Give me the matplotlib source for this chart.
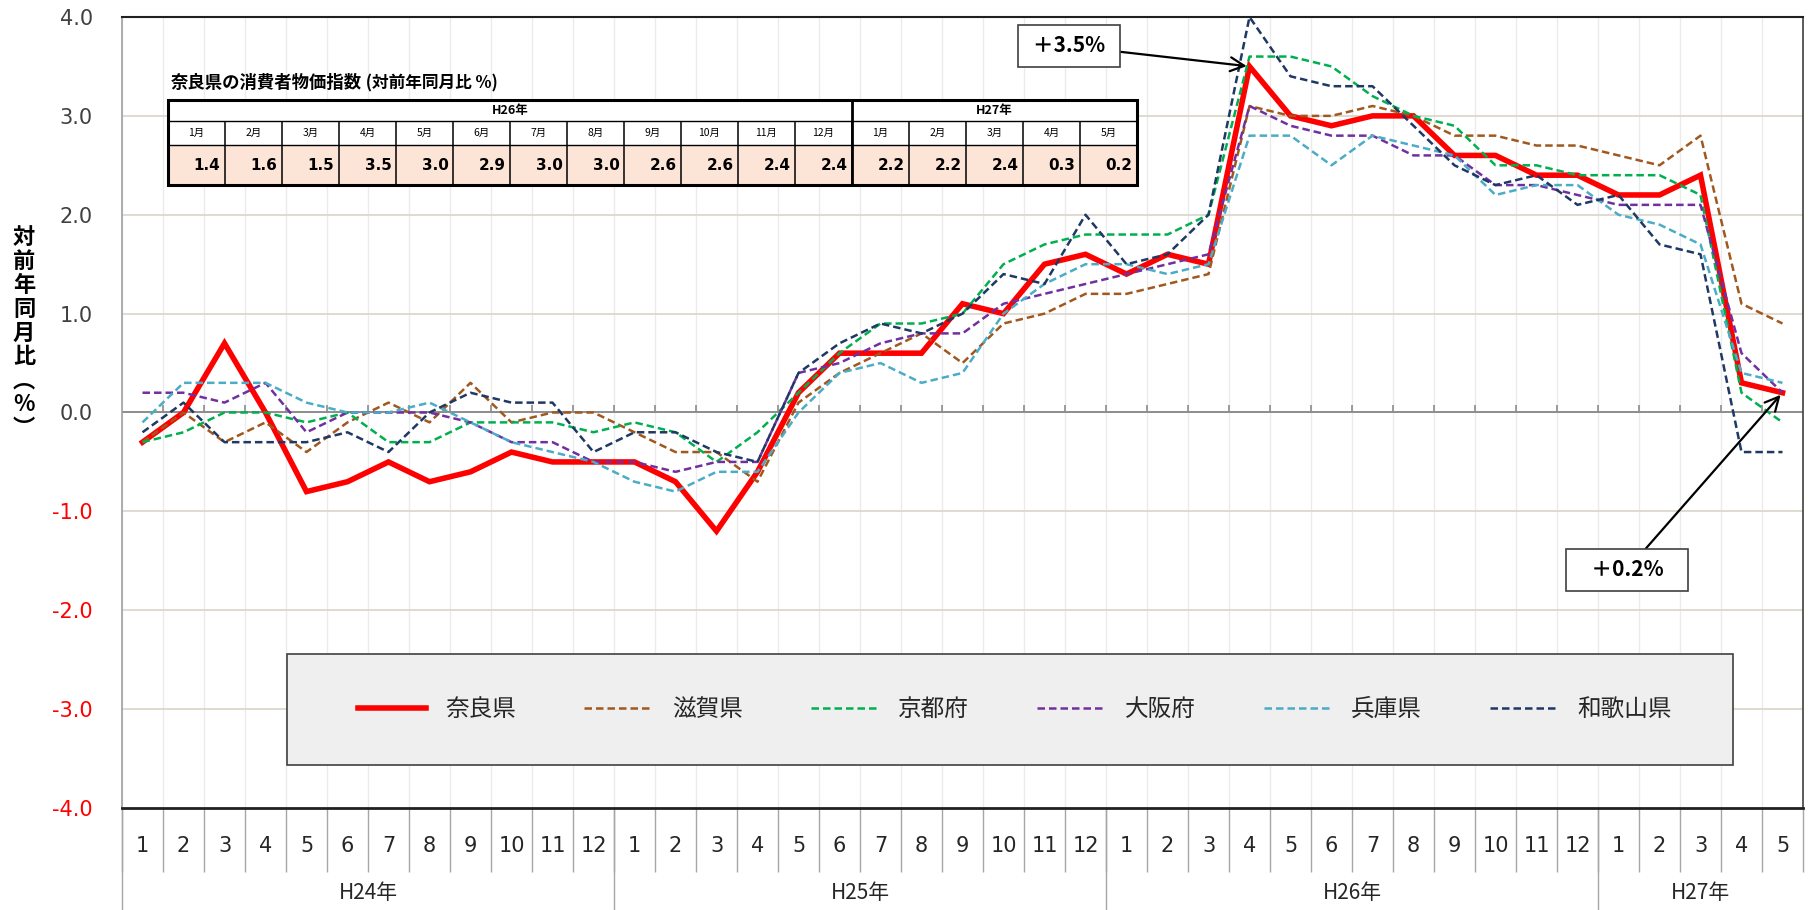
import matplotlib
matplotlib.use('Agg')
import matplotlib.pyplot as plt
from matplotlib.patches import Rectangle
import numpy as np

plt.rcParams['font.family'] = ['Noto Sans CJK JP', 'DejaVu Sans']

# month ticks along the x axis, grouped by year
months = [str(m) for m in range(1, 13)] * 3 + ['1', '2', '3', '4', '5']
years = ['H24年', 'H25年', 'H26年', 'H27年']
year_len = [12, 12, 12, 5]

# year-on-year change (%) per prefecture, H24.1 .. H27.5
nara = [-0.3, 0.0, 0.7, 0.0, -0.8, -0.7, -0.5, -0.7, -0.6, -0.4, -0.5, -0.5,
        -0.5, -0.7, -1.2, -0.6, 0.2, 0.6, 0.6, 0.6, 1.1, 1.0, 1.5, 1.6,
        1.4, 1.6, 1.5, 3.5, 3.0, 2.9, 3.0, 3.0, 2.6, 2.6, 2.4, 2.4,
        2.2, 2.2, 2.4, 0.3, 0.2]
shiga = [-0.3, 0.0, -0.3, -0.1, -0.4, -0.1, 0.1, -0.1, 0.3, -0.1, 0.0, 0.0,
         -0.2, -0.4, -0.4, -0.7, 0.1, 0.4, 0.6, 0.8, 0.5, 0.9, 1.0, 1.2,
         1.2, 1.3, 1.4, 3.1, 3.0, 3.0, 3.1, 3.0, 2.8, 2.8, 2.7, 2.7,
         2.6, 2.5, 2.8, 1.1, 0.9]
kyoto = [-0.3, -0.2, 0.0, 0.0, -0.1, 0.0, -0.3, -0.3, -0.1, -0.1, -0.1, -0.2,
         -0.1, -0.2, -0.5, -0.2, 0.2, 0.6, 0.9, 0.9, 1.0, 1.5, 1.7, 1.8,
         1.8, 1.8, 2.0, 3.6, 3.6, 3.5, 3.2, 3.0, 2.9, 2.5, 2.5, 2.4,
         2.4, 2.4, 2.2, 0.2, -0.1]
osaka = [0.2, 0.2, 0.1, 0.3, -0.2, 0.0, 0.0, 0.0, -0.1, -0.3, -0.3, -0.5,
         -0.5, -0.6, -0.5, -0.5, 0.4, 0.5, 0.7, 0.8, 0.8, 1.1, 1.2, 1.3,
         1.4, 1.5, 1.6, 3.1, 2.9, 2.8, 2.8, 2.6, 2.6, 2.3, 2.3, 2.2,
         2.1, 2.1, 2.1, 0.6, 0.2]
hyogo = [-0.1, 0.3, 0.3, 0.3, 0.1, 0.0, 0.0, 0.1, -0.1, -0.3, -0.4, -0.5,
         -0.7, -0.8, -0.6, -0.6, 0.0, 0.4, 0.5, 0.3, 0.4, 1.0, 1.3, 1.5,
         1.5, 1.4, 1.5, 2.8, 2.8, 2.5, 2.8, 2.7, 2.6, 2.2, 2.3, 2.3,
         2.0, 1.9, 1.7, 0.4, 0.3]
wakayama = [-0.2, 0.1, -0.3, -0.3, -0.3, -0.2, -0.4, 0.0, 0.2, 0.1, 0.1, -0.4,
            -0.2, -0.2, -0.4, -0.5, 0.4, 0.7, 0.9, 0.8, 1.0, 1.4, 1.3, 2.0,
            1.5, 1.6, 2.0, 4.0, 3.4, 3.3, 3.3, 2.9, 2.5, 2.3, 2.4, 2.1,
            2.2, 1.7, 1.6, -0.4, -0.4]

names = ['奈良県', '滋賀県', '京都府', '大阪府', '兵庫県', '和歌山県']
colors = ['#FF0000', '#A0581E', '#00B050', '#7030A0', '#4BACC6', '#1F3864']
data = [nara, shiga, kyoto, osaka, hyogo, wakayama]

# inset table: Nara, H26.1 .. H27.5
tbl_years = ['H26年', 'H27年']
tbl_months = [f'{m}月' for m in range(1, 13)] + [f'{m}月' for m in range(1, 6)]
tbl_vals = nara[24:]

fig = plt.figure(figsize=(18.12, 9.10), dpi=100)
ax = fig.add_axes([122 / 1812, 102 / 910, 1681 / 1812, 791 / 910])

x = np.arange(len(months))
bounds = np.arange(len(months) + 1) - 0.5

# grid
ax.vlines(bounds, -4, 4, color='#EBEBEB', lw=1, zorder=0)
for yv in [-3, -2, -1, 1, 2, 3]:
    ax.axhline(yv, color='#DDD8CB', lw=1.3, zorder=0)
ax.axhline(0, color='#8C8C8C', lw=1.4, zorder=1)
ax.vlines(bounds[1:-1], 0, 0.08, color='#8C8C8C', lw=1.2, zorder=1)

for name, vals, col in zip(names, data, colors):
    if name == '奈良県':
        ax.plot(x, vals, color=col, lw=4, label=name, zorder=3, solid_joinstyle='miter')
    else:
        ax.plot(x, vals, color=col, lw=1.8, dashes=(3, 1.6), label=name, zorder=3)

ax.set_xlim(-0.5, len(months) - 0.5)
ax.set_ylim(-4, 4)
ax.set_xticks([])
yt = np.arange(-4, 5)
ax.set_yticks(yt)
ax.set_yticklabels([f'{v:.1f}' for v in yt], family='DejaVu Sans', fontsize=15)
for lab, v in zip(ax.get_yticklabels(), yt):
    lab.set_color('#FF0000' if v < 0 else '#404040')
ax.tick_params(axis='y', length=0, pad=21)

ax.spines['top'].set_color('#202020')
ax.spines['top'].set_linewidth(1.5)
ax.spines['bottom'].set_color('#202020')
ax.spines['bottom'].set_linewidth(2)
ax.spines['right'].set_color('#404040')
ax.spines['right'].set_linewidth(1.2)
ax.spines['left'].set_color('#A0A0A0')
ax.spines['left'].set_linewidth(1.2)

# category axis below the plot
tr = ax.get_xaxis_transform()
ax.vlines(bounds, -0.081, 0, transform=tr, color='#A6A6A6', lw=1, clip_on=False)
year_edges = np.concatenate([[0], np.cumsum(year_len)]) - 0.5
ax.vlines(year_edges[:-1], -0.13, 0, transform=tr, color='#A6A6A6', lw=1, clip_on=False)
for i, m in enumerate(months):
    ax.text(i, -0.048, m, transform=tr, ha='center', va='center', fontsize=15,
            color='#262626', family=['Liberation Sans Narrow', 'DejaVu Sans'])
for k, yname in enumerate(years):
    xc = (year_edges[k] + year_edges[k + 1]) / 2
    ax.text(xc, -0.108, yname, transform=tr, ha='center', va='center', fontsize=15,
            color='#262626', family=['Liberation Sans Narrow', 'Noto Sans CJK JP'])

fig.text(24 / 1812, 1 - 333 / 910, '対\n前\n年\n同\n月\n比\n︵\n%\n︶', ha='center', va='center',
         fontsize=16, weight='bold', linespacing=1.05)

# legend: grey panel with the entries spread inside it
ax.add_patch(Rectangle((0.0982, 0.0544), 0.860, 0.1403, transform=ax.transAxes,
                       fc='#EFEFEF', ec='#404040', lw=1.2, zorder=4))
leg = ax.legend(loc='center', bbox_to_anchor=(0.1404, 0.0746, 0.7817, 0.1), mode='expand',
                ncol=6, fontsize=17, handlelength=2.9, borderpad=0, borderaxespad=0,
                frameon=False)
for t in leg.get_texts():
    t.set_color('#262626')

# callouts
box = dict(boxstyle='square,pad=0.5', fc='white', ec='#404040', lw=1.2)
arw = dict(arrowstyle='->', color='black', lw=1.6, mutation_scale=25, shrinkA=0, shrinkB=2)
ax.annotate(' ＋3.5% ', xy=(27, nara[27]), xytext=(1069, 864), textcoords='figure pixels',
            ha='center', va='center', fontsize=15, weight='bold', bbox=box, arrowprops=arw, zorder=6)
ax.annotate('   ＋0.2%   ', xy=(40, nara[40]), xytext=(1627, 340), textcoords='figure pixels',
            ha='center', va='center', fontsize=15, weight='bold', bbox=box, arrowprops=arw, zorder=6)

# inset table
tax = fig.add_axes([168 / 1812, (910 - 185) / 910, 969 / 1812, 85 / 910])
n = len(tbl_months)
tax.set_xlim(0, n)
tax.set_ylim(0, 85)
tax.axis('off')
tax.add_patch(Rectangle((0, 40), n, 45, fc='white', ec='none'))
tax.add_patch(Rectangle((0, 0), n, 40, fc='#FCE4D6', ec='none'))
tax.hlines([40, 64], 0, n, color='black', lw=1)
tax.vlines(np.arange(1, n), 0, 64, color='black', lw=1.1)
tax.vlines([12], 0, 85, color='black', lw=2)
tax.add_patch(Rectangle((0, 0), n, 85, fc='none', ec='black', lw=2.2, clip_on=False))
tax.text(6, 74.5, tbl_years[0], ha='center', va='center', fontsize=9, weight='bold')
tax.text(14.5, 74.5, tbl_years[1], ha='center', va='center', fontsize=9, weight='bold')
for i, (mm, v) in enumerate(zip(tbl_months, tbl_vals)):
    tax.text(i + 0.5, 52, mm, ha='center', va='center', fontsize=7.5)
    tax.text(i + 0.92, 19, f'{v:.1f}', ha='right', va='center', fontsize=11, weight='bold',
             family='DejaVu Sans')

t1 = fig.text(171 / 1812, 1 - 83 / 910, '奈良県の消費者物価指数', fontsize=12.5, weight='bold', va='center')
tax.annotate(' (対前年同月比 %)', xy=(1, 0.5), xycoords=t1, va='center', fontsize=12,
             weight='bold', annotation_clip=False)

fig.savefig('out.png', dpi=100)
